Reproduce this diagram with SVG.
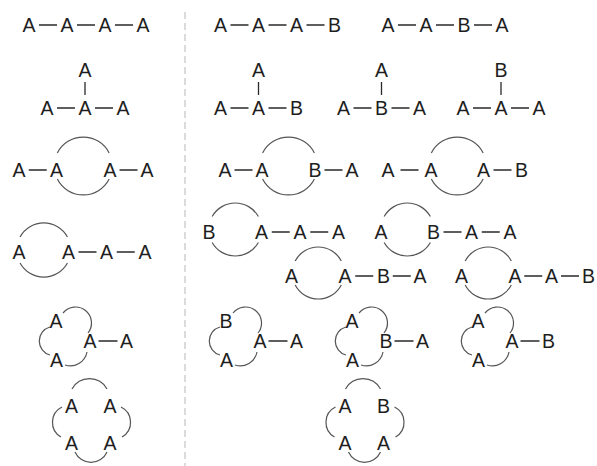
<svg xmlns="http://www.w3.org/2000/svg" width="597" height="466" viewBox="0 0 597 466">
<style>
text{font-family:"Liberation Sans",Arial,Helvetica,sans-serif;font-size:19.5px;fill:#1e1e1e;text-anchor:middle}
.b{stroke:#2a2a2a;stroke-width:1.3;fill:none}
.r{stroke:#555;stroke-width:1.2;fill:none}
.sep{stroke:#c4c4c4;stroke-width:1.2;stroke-dasharray:7 4}
</style>
<rect width="597" height="466" fill="#fff"/>
<line class="sep" x1="185" y1="12" x2="185" y2="466"/>

<!-- nodes -->
<g id="m1"><text x="29" y="32">A</text><text x="67" y="32">A</text><text x="105" y="32">A</text><text x="143" y="32">A</text></g>
<g id="m2"><text x="220.5" y="32">A</text><text x="258.5" y="32">A</text><text x="296.5" y="32">A</text><text x="334.5" y="32">B</text></g>
<g id="m3"><text x="388" y="32">A</text><text x="426" y="32">A</text><text x="464" y="32">B</text><text x="502" y="32">A</text></g>

<g id="m4"><text x="85" y="77">A</text><text x="47" y="115">A</text><text x="85" y="115">A</text><text x="123" y="115">A</text></g>
<g id="m5"><text x="258.5" y="77">A</text><text x="220.5" y="115">A</text><text x="258.5" y="115">A</text><text x="296.5" y="115">B</text></g>
<g id="m6"><text x="381.5" y="77">A</text><text x="343.5" y="115">A</text><text x="381.5" y="115">B</text><text x="419.5" y="115">A</text></g>
<g id="m7"><text x="501" y="77">B</text><text x="463" y="115">A</text><text x="501" y="115">A</text><text x="539" y="115">A</text></g>

<g id="m8"><text x="19" y="177">A</text><text x="56.5" y="177">A</text><text x="110" y="177">A</text><text x="147" y="177">A</text></g>
<g id="m9"><text x="225" y="177">A</text><text x="262" y="177">A</text><text x="315" y="177">B</text><text x="352" y="177">A</text></g>
<g id="m10"><text x="388" y="177">A</text><text x="431" y="177">A</text><text x="483.5" y="177">A</text><text x="521.5" y="177">B</text></g>

<g id="m11"><text x="19" y="259">A</text><text x="68.5" y="259">A</text><text x="106.5" y="259">A</text><text x="145" y="259">A</text></g>
<g id="m12"><text x="209" y="239">B</text><text x="261.5" y="239">A</text><text x="300" y="239">A</text><text x="338.5" y="239">A</text></g>
<g id="m13"><text x="381" y="239">A</text><text x="433.5" y="239">B</text><text x="471.5" y="239">A</text><text x="510" y="239">A</text></g>
<g id="m14"><text x="291.5" y="283">A</text><text x="345" y="283">A</text><text x="383.5" y="283">B</text><text x="420" y="283">A</text></g>
<g id="m15"><text x="461.5" y="283">A</text><text x="515" y="283">A</text><text x="551.5" y="283">A</text><text x="588.5" y="283">B</text></g>

<g id="m16"><text x="56" y="328">A</text><text x="90" y="348">A</text><text x="56.5" y="367">A</text><text x="126.5" y="348">A</text></g>
<g id="m17"><text x="226" y="328">B</text><text x="260" y="348">A</text><text x="226.5" y="367">A</text><text x="296.5" y="348">A</text></g>
<g id="m18"><text x="352" y="328">A</text><text x="386" y="348">B</text><text x="352.5" y="367">A</text><text x="422.5" y="348">A</text></g>
<g id="m19"><text x="478" y="328">A</text><text x="512" y="348">A</text><text x="478.5" y="367">A</text><text x="548.5" y="348">B</text></g>

<g id="m20"><text x="71.5" y="413">A</text><text x="110" y="413">A</text><text x="71.5" y="450">A</text><text x="110" y="450">A</text></g>
<g id="m21"><text x="345" y="413">A</text><text x="383.5" y="413">B</text><text x="345" y="450">A</text><text x="383.5" y="450">A</text></g>

<!-- connectors -->
<g id="connectors">
<g class="b">
<path d="M39 25H57M77 25H95M115 25H133"/>
<path d="M230.5 25H248.5M268.5 25H286.5M306.5 25H324.5"/>
<path d="M398 25H416M436 25H454M474 25H492"/>
<path d="M57 108H75M95 108H113M85 82V95"/>
<path d="M230.5 108H248.5M268.5 108H286.5M258.5 82V95"/>
<path d="M353.5 108H371.5M391.5 108H409.5M381.5 82V95"/>
<path d="M473 108H491M511 108H529M501 82V95"/>
<path d="M28.75 170H46.75M119.5 170H137.5"/>
<path d="M234.5 170H252.5M324.5 170H342.5"/>
<path d="M400.5 170H418.5M493.5 170H511.5"/>
<path d="M78.5 252H96.5M116.75 252H134.75"/>
<path d="M271.75 232H289.75M310.25 232H328.25"/>
<path d="M443.5 232H461.5M481.75 232H499.75"/>
<path d="M355.25 276H373.25M392.75 276H410.75"/>
<path d="M524.25 276H542.25M561 276H579"/>
<path d="M98.5 341H117.5M268.5 341H287.5M394.5 341H413.5M520.5 341H539.5"/>
</g>
<g class="r">
<path d="M57.35 153A29 29 0 0 1 109.15 153M57.35 179A29 29 0 0 0 109.15 179"/>
<path d="M262.6 153A29 29 0 0 1 314.4 153M262.6 179A29 29 0 0 0 314.4 179"/>
<path d="M431.35 153A29 29 0 0 1 483.15 153M431.35 179A29 29 0 0 0 483.15 179"/>
<path d="M20.05 237A27 27 0 0 1 67.45 237M20.05 263A27 27 0 0 0 67.45 263"/>
<path d="M212.15 216.5A26.5 26.5 0 0 1 258.35 216.5M212.15 242.5A26.5 26.5 0 0 0 258.35 242.5"/>
<path d="M384.15 216.5A26.5 26.5 0 0 1 430.35 216.5M384.15 242.5A26.5 26.5 0 0 0 430.35 242.5"/>
<path d="M295.18 261A26 26 0 0 1 341.32 261M295.18 285A26 26 0 0 0 341.32 285"/>
<path d="M465.18 261A26 26 0 0 1 511.32 261M465.18 285A26 26 0 0 0 511.32 285"/>
<path d="M50 327A14.5 14.5 0 0 0 50 355M63 313A16 16 0 0 1 88 333M87 352A17 17 0 0 1 65 365"/>
<path d="M220 327A14.5 14.5 0 0 0 220 355M233 313A16 16 0 0 1 258 333M257 352A17 17 0 0 1 235 365"/>
<path d="M346 327A14.5 14.5 0 0 0 346 355M359 313A16 16 0 0 1 384 333M383 352A17 17 0 0 1 361 365"/>
<path d="M472 327A14.5 14.5 0 0 0 472 355M485 313A16 16 0 0 1 510 333M509 352A17 17 0 0 1 487 365"/>
<path d="M72 389A20 20 0 0 1 107 389M62 407A17 17 0 0 0 61 437M121 407A17 17 0 0 1 122 437M75 452A17.5 17.5 0 0 0 107 452"/>
<path d="M345.5 389A20 20 0 0 1 380.5 389M335.5 407A17 17 0 0 0 334.5 437M394.5 407A17 17 0 0 1 395.5 437M348.5 452A17.5 17.5 0 0 0 380.5 452"/>
</g>
</g>
</svg>
